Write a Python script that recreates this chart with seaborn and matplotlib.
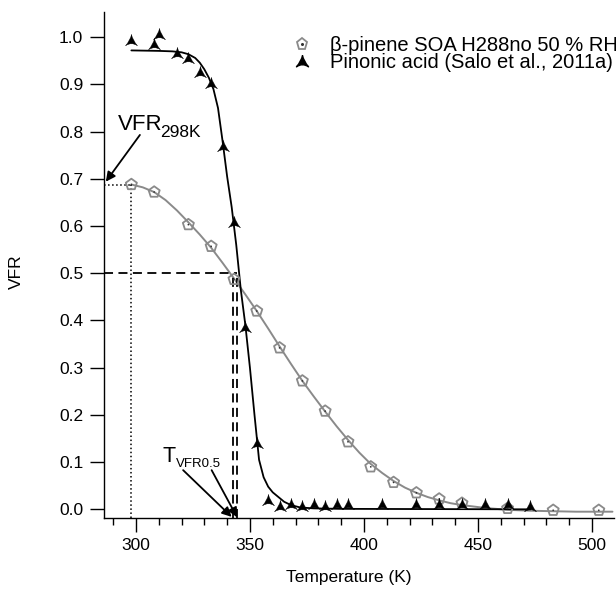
import numpy as np
import pandas as pd
import matplotlib
matplotlib.use("Agg")
import matplotlib.pyplot as plt
import seaborn as sns
from matplotlib.path import Path
from matplotlib.lines import Line2D
from matplotlib.legend_handler import HandlerTuple
from matplotlib.ticker import MultipleLocator, FormatStrFormatter

# ---------------- data ----------------
soa_T = [298, 308, 323, 333, 343, 353, 363, 373, 383, 393, 403, 413, 423,
         433, 443, 463, 483, 503]
soa_vfr = [0.688, 0.672, 0.603, 0.557, 0.487, 0.420, 0.342, 0.272, 0.208,
           0.143, 0.090, 0.057, 0.035, 0.022, 0.013, 0.002, -0.002, -0.002]

pin_T = [298, 308, 310, 318, 323, 328, 333, 338, 343, 348, 353, 358, 363,
         368, 373, 378, 383, 388, 393, 408, 423, 433, 443, 453, 463, 473]
pin_vfr = [0.994, 0.985, 1.006, 0.967, 0.955, 0.927, 0.903, 0.770, 0.609,
           0.387, 0.140, 0.020, 0.007, 0.011, 0.007, 0.011, 0.007, 0.011,
           0.011, 0.011, 0.011, 0.012, 0.011, 0.011, 0.011, 0.007]

# fitted curves
soa_fit_T = [298, 303, 308, 313, 318, 323, 328, 333, 338, 343, 348, 353, 358,
             363, 368, 373, 378, 383, 388, 393, 398, 403, 408, 413, 418, 423,
             428, 433, 438, 443, 453, 463, 473, 483, 493, 509]
soa_fit_vfr = [0.688, 0.682, 0.672, 0.655, 0.633, 0.608, 0.582, 0.554, 0.522,
               0.489, 0.455, 0.420, 0.383, 0.345, 0.308, 0.272, 0.239, 0.207,
               0.176, 0.147, 0.120, 0.096, 0.077, 0.060, 0.046, 0.035, 0.026,
               0.019, 0.013, 0.009, 0.003, -0.001, -0.003, -0.004, -0.005,
               -0.005]

pin_fit_T = [298, 310, 316, 320, 323, 326, 328, 330, 332, 334, 336, 338, 340,
             342, 344, 346, 348, 350, 352, 354, 356, 358, 360, 362, 365, 368,
             372, 378, 390, 473]
pin_fit_vfr = [0.972, 0.971, 0.970, 0.968, 0.964, 0.956, 0.946, 0.932, 0.914,
               0.890, 0.850, 0.780, 0.705, 0.640, 0.560, 0.465, 0.390, 0.300,
               0.200, 0.105, 0.068, 0.048, 0.036, 0.028, 0.016, 0.009, 0.004,
               0.002, 0.001, 0.000]

t50_soa = 342.6
t50_pin = 344.4
vfr_half = 0.5

labels = ["\u03b2-pinene SOA H288no 50 % RH",
          "Pinonic acid (Salo et al., 2011a)"]
x_ticks = [300, 350, 400, 450, 500]
y_ticks = [0.0, 0.1, 0.2, 0.3, 0.4, 0.5, 0.6, 0.7, 0.8, 0.9, 1.0]

# ---------------- style ----------------
sns.set_theme(style="ticks", rc={
    "axes.edgecolor": "black", "text.color": "black",
    "axes.labelcolor": "black", "xtick.color": "black",
    "ytick.color": "black", "axes.linewidth": 1.0,
})
plt.rcParams["font.family"] = ["Liberation Sans", "DejaVu Sans"]

GREY = "#8a8a8a"

# concave "arrowhead" triangle marker (Igor style)
tri_verts = [(0, 0.85), (-0.15, 0.05), (-0.85, -0.75), (0, -0.15),
             (0.85, -0.75), (0.15, 0.05), (0, 0.85)]
tri_codes = [Path.MOVETO, Path.CURVE3, Path.CURVE3, Path.CURVE3,
             Path.CURVE3, Path.CURVE3, Path.CURVE3]
tri_path = Path(tri_verts, tri_codes)

fig = plt.figure(figsize=(6.16, 5.90), dpi=100)
ax = fig.add_axes([104 / 616, (590 - 518.3) / 590,
                   (614.3 - 104) / 616, (518.3 - 11.7) / 590])

xmin, xmax = 286.0, 509.8
ymin, ymax = -0.019, 1.054

# fit curves
sns.lineplot(x=soa_fit_T, y=soa_fit_vfr, color=GREY, lw=1.4, sort=False,
             estimator=None, ax=ax, zorder=2)
sns.lineplot(x=pin_fit_T, y=pin_fit_vfr, color="black", lw=1.3, sort=False,
             estimator=None, ax=ax, zorder=2)

# data points
sns.scatterplot(x=soa_T, y=soa_vfr, marker="p", s=70, color=GREY,
                facecolor="none", edgecolor=GREY, linewidth=1.3, ax=ax,
                zorder=3)
sns.scatterplot(x=soa_T, y=soa_vfr, marker="o", s=1.5, color="#333333",
                edgecolor="none", ax=ax, zorder=4)
sns.scatterplot(x=pin_T, y=pin_vfr, marker=tri_path, s=75, color="black",
                edgecolor="black", linewidth=0.3, ax=ax, zorder=5)

# reference lines
ax.hlines(soa_vfr[0], xmin, soa_T[0], colors="black", linestyles=":", lw=1.1)
ax.vlines(soa_T[0], ymin, soa_vfr[0], colors="black", linestyles=":", lw=1.1)
ax.hlines(vfr_half, xmin, t50_pin, colors="black",
          linestyles=(0, (5, 3)), lw=1.3)
ax.vlines([t50_soa, t50_pin], ymin, vfr_half, colors="black",
          linestyles=(0, (5, 3)), lw=1.3)

# annotations
ax.text(292.1, 0.804, "VFR", fontsize=16, ha="left", va="baseline")
ax.annotate("298K", xy=(292.1, 0.804), xytext=(42.5, -7),
            textcoords="offset pixels", fontsize=12.5, ha="left",
            va="baseline")
ax.annotate("", xy=(286.8, 0.694), xytext=(301.75, 0.793),
            arrowprops=dict(arrowstyle="-|>", color="black", lw=1.3,
                            mutation_scale=14, shrinkA=0, shrinkB=0))
ax.text(311.8, 0.100, "T", fontsize=15.5, ha="left", va="baseline")
ax.annotate("VFR0.5", xy=(311.8, 0.100), xytext=(13, -5),
            textcoords="offset pixels", fontsize=9.5, ha="left",
            va="baseline")
ax.annotate("", xy=(342.0, -0.016), xytext=(320.7, 0.083),
            arrowprops=dict(arrowstyle="-|>", color="black", lw=1.3,
                            mutation_scale=14, shrinkA=0, shrinkB=0))
ax.annotate("", xy=(344.4, -0.017), xytext=(333.2, 0.083),
            arrowprops=dict(arrowstyle="-|>", color="black", lw=1.3,
                            mutation_scale=14, shrinkA=0, shrinkB=0))

# axes
ax.set_xlim(xmin, xmax)
ax.set_ylim(ymin, ymax)
ax.set_xticks(x_ticks)
ax.set_yticks(y_ticks)
ax.xaxis.set_minor_locator(MultipleLocator(10))
ax.yaxis.set_major_formatter(FormatStrFormatter("%.1f"))
ax.tick_params(axis="both", which="major", direction="out", length=10,
               width=1.0, labelsize=12.5, pad=4)
ax.tick_params(axis="x", which="minor", direction="out", length=5,
               width=1.0)
ax.tick_params(axis="y", which="major", pad=5)
sns.despine(ax=ax)

ax.set_xlabel("Temperature (K)", fontsize=12.5)
ax.set_ylabel("VFR", fontsize=12.5)
ax.xaxis.set_label_coords((349 - 104) / 510.3, (518.3 - 570) / 506.6)
ax.yaxis.set_label_coords((24 - 104) / 510.3, (518.3 - 272) / 506.6)

# legend
h_soa = (Line2D([], [], marker="p", ls="none", mfc="none", mec=GREY,
                ms=8.3, mew=1.3),
         Line2D([], [], marker="o", ls="none", color="#333333", ms=1.2))
h_pin = Line2D([], [], marker=tri_path, ls="none", color="black", ms=8.7)
ax.legend([h_soa, h_pin], labels, loc="upper left",
          bbox_to_anchor=(292 / 616, 1 - 36 / 590),
          bbox_transform=fig.transFigure, frameon=False, fontsize=14.5,
          handlelength=1.0, handletextpad=0.9, labelspacing=-0.08,
          borderpad=0, borderaxespad=0,
          handler_map={tuple: HandlerTuple(ndivide=1, pad=0)})

fig.savefig("out.png", dpi=100)
